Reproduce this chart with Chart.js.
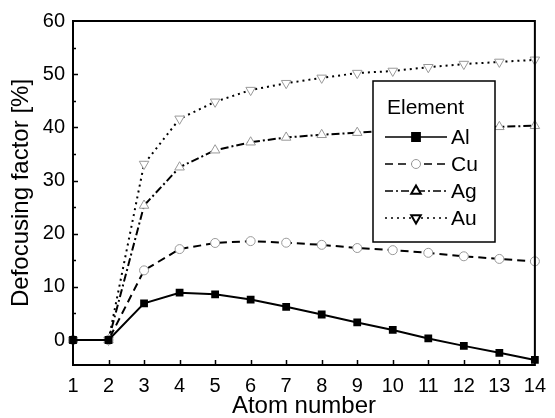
<!DOCTYPE html>
<html>
<head>
<meta charset="utf-8">
<script src="https://cdn.jsdelivr.net/npm/chart.js@4/dist/chart.umd.min.js"></script>
<style>
  html, body { margin: 0; padding: 0; background: #fff; }
  #chart { display: block; }
</style>
</head>
<body>
<canvas id="chart" width="555" height="418"></canvas>
<script>
// atom numbers along the x axis
const atoms = ["1", "2", "3", "4", "5", "6", "7", "8", "9", "10", "11", "12", "13", "14"];

// defocusing factor [%] for each element
const al = [0, 0, 6.9, 8.9, 8.6, 7.6, 6.25, 4.8, 3.3, 1.9, 0.3, -1.1, -2.4, -3.75];
const cu = [0, 0, 13.1, 17.1, 18.25, 18.6, 18.3, 17.9, 17.3, 16.9, 16.4, 15.75, 15.25, 14.8];
const ag = [0, 0, 25.3, 32.5, 35.7, 37.2, 38.1, 38.6, 39.0, 39.4, 39.7, 39.9, 40.1, 40.3];
const au = [0, 0, 33.1, 41.6, 44.8, 47.0, 48.3, 49.3, 50.2, 50.6, 51.3, 51.9, 52.3, 52.7];

const yTicks = [0, 10, 20, 30, 40, 50, 60];
const yMinor = [-5, 5, 15, 25, 35, 45, 55];

const FONT = "'Liberation Sans', Arial, sans-serif";

// frame, inward ticks and the in-plot legend box
const framePlugin = {
  id: "frame",
  afterDraw(chart) {
    const ctx = chart.ctx;
    const a = chart.chartArea;
    const xs = chart.scales.x;
    const ys = chart.scales.y;
    ctx.save();
    ctx.strokeStyle = "#000";
    ctx.lineWidth = 2;
    ctx.strokeRect(a.left, a.top, a.right - a.left, a.bottom - a.top);

    ctx.beginPath();
    for (let v of yTicks) {
      const y = Math.round(ys.getPixelForValue(v)) + 0.5;
      if (y < a.top + 2 || y > a.bottom - 2) continue;
      ctx.moveTo(a.left, y);
      ctx.lineTo(a.left + 5, y);
    }
    for (let v of yMinor) {
      const y = Math.round(ys.getPixelForValue(v)) + 0.5;
      if (y < a.top + 2 || y > a.bottom - 2) continue;
      ctx.moveTo(a.left, y);
      ctx.lineTo(a.left + 3, y);
    }
    for (let i = 1; i < atoms.length - 1; i++) {
      const x = Math.round(xs.getPixelForValue(i)) + 0.5;
      ctx.moveTo(x, a.bottom);
      ctx.lineTo(x, a.bottom - 5);
    }
    ctx.lineWidth = 1.5;
    ctx.stroke();

    // legend
    const bx = 373, by = 81, bw = 122, bh = 161;
    ctx.fillStyle = "#fff";
    ctx.fillRect(bx, by, bw, bh);
    ctx.lineWidth = 1.5;
    ctx.strokeRect(bx, by, bw, bh);
    ctx.fillStyle = "#000";
    ctx.textBaseline = "middle";
    ctx.font = "21px " + FONT;
    ctx.fillText("Element", 387, 108);
    const rows = [137, 164, 191, 218];
    chart.data.datasets.forEach((ds, i) => {
      const y = rows[i];
      ctx.save();
      ctx.strokeStyle = "#000";
      ctx.lineWidth = 1.5;
      ctx.setLineDash(ds.borderDash || []);
      ctx.beginPath();
      ctx.moveTo(385, y);
      ctx.lineTo(447, y);
      ctx.stroke();
      ctx.setLineDash([]);
      ctx.fillStyle = ds.pointBackgroundColor;
      ctx.strokeStyle = i == 1 ? "#999" : "#000";
      ctx.lineWidth = i == 1 ? 1 : 2;
      Chart.helpers.drawPoint(ctx, {
        pointStyle: ds.pointStyle,
        radius: ds.pointRadius,
        rotation: ds.pointRotation || 0,
        borderWidth: ctx.lineWidth,
      }, 416, y);
      ctx.restore();
      ctx.fillStyle = "#000";
      ctx.fillText(ds.label, 451, y + 1);
    });
    ctx.restore();
  },
};

new Chart(document.querySelector("#chart").getContext("2d"), {
  type: "line",
  data: {
    labels: atoms,
    datasets: [
      {
        label: "Al",
        data: al,
        borderColor: "#000",
        borderWidth: 2,
        pointStyle: "rect",
        pointRadius: 5.5,
        pointBackgroundColor: "#000",
        pointBorderColor: "#000",
        pointBorderWidth: 0,
      },
      {
        label: "Cu",
        data: cu,
        borderColor: "#000",
        borderWidth: 2,
        borderDash: [8, 5],
        pointStyle: "circle",
        pointRadius: 4.5,
        pointBackgroundColor: "#fff",
        pointBorderColor: "#999",
        pointBorderWidth: 1,
      },
      {
        label: "Ag",
        data: ag,
        borderColor: "#000",
        borderWidth: 2,
        borderDash: [8, 3, 2, 3],
        pointStyle: "triangle",
        pointRadius: 5.5,
        pointBackgroundColor: "#fff",
        pointBorderColor: "#999",
        pointBorderWidth: 1,
      },
      {
        label: "Au",
        data: au,
        borderColor: "#000",
        borderWidth: 2,
        borderDash: [2, 4],
        pointStyle: "triangle",
        pointRotation: 180,
        pointRadius: 5.5,
        pointBackgroundColor: "#fff",
        pointBorderColor: "#999",
        pointBorderWidth: 1,
      },
    ],
  },
  options: {
    responsive: false,
    animation: false,
    layout: { padding: { left: 0, top: 21, right: 13, bottom: 0 } },
    plugins: { legend: { display: false }, tooltip: { enabled: false } },
    elements: { line: { tension: 0 } },
    scales: {
      x: {
        offset: false,
        grid: { display: false, drawTicks: false },
        border: { display: false },
        ticks: { color: "#000", font: { family: FONT, size: 20 }, padding: 9, maxRotation: 0, autoSkip: false },
        title: { display: true, text: "Atom number", color: "#000", font: { family: FONT, size: 24, lineHeight: 1 }, padding: { top: 0, bottom: 0 } },
        afterFit(scale) { scale.height = 53; },
      },
      y: {
        min: -4.7,
        max: 60,
        grid: { display: false, drawTicks: false },
        border: { display: false },
        ticks: { color: "#000", font: { family: FONT, size: 20 }, padding: 8 },
        afterBuildTicks(scale) { scale.ticks = yTicks.map(v => ({ value: v })); },
        title: { display: true, text: "Defocusing factor [%]", color: "#000", font: { family: FONT, size: 24, lineHeight: 1 }, padding: { top: 9, bottom: 0 } },
        afterFit(scale) { scale.width = 73; },
      },
    },
  },
  plugins: [framePlugin],
});
</script>
</body>
</html>
